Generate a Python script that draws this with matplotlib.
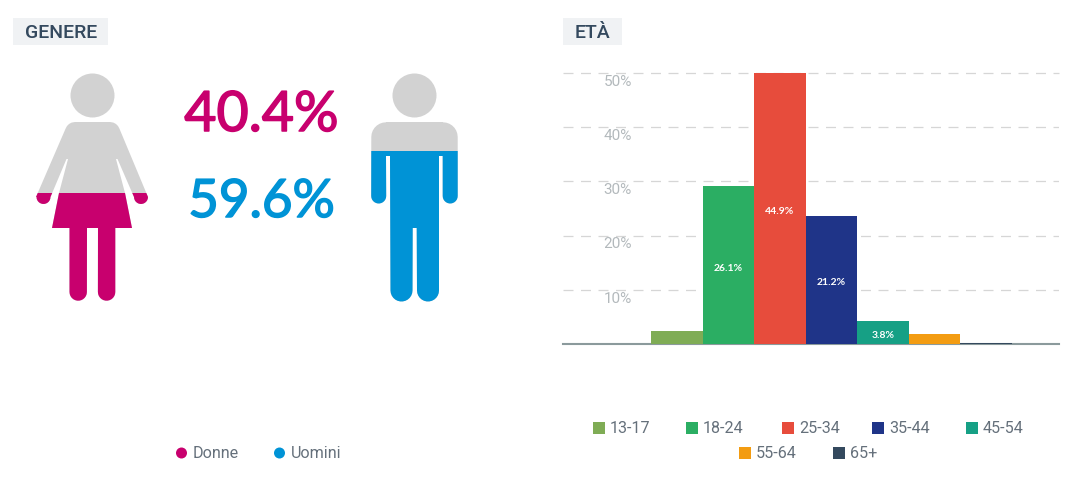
import numpy as np
import matplotlib
matplotlib.use('Agg')
import matplotlib.pyplot as plt
import matplotlib.patheffects as pe
from matplotlib.patches import Rectangle, Circle

plt.rcParams['font.family'] = ['Roboto', 'DejaVu Sans']

gender_labels = ['Donne', 'Uomini']
gender_shares = [40.4, 59.6]
gender_colors = ['#c8006e', '#0093d6']

age_labels = ['13-17', '18-24', '25-34', '35-44', '45-54', '55-64', '65+']
age_shares = [2.1, 26.1, 44.9, 21.2, 3.8, 1.7, 0.2]
age_colors = ['#7fac55', '#2bae63', '#e74c3c', '#1f3488', '#16a085', '#f39c12', '#34495e']
shown_labels = [None, '26.1%', '44.9%', '21.2%', '3.8%', None, None]
tick_labels = ['10%', '20%', '30%', '40%', '50%']

W, H = 1085, 494
fig = plt.figure(figsize=(W / 100, H / 100), dpi=100, facecolor='white')

# overlay in pixel coords for the icons, headers and legends
bg = fig.add_axes([0, 0, 1, 1])
bg.set_xlim(0, W)
bg.set_ylim(H, 0)
bg.axis('off')


def arc(cx, cy, r, a0, a1, n=14):
    t = np.radians(np.linspace(a0, a1, n))
    return list(zip(cx + r * np.cos(t), cy + r * np.sin(t)))


def woman_shape():
    body = [(75, 122), (110, 122)] + arc(110, 132, 10, 290, 340, 4)
    body += [(148, 197)] + arc(141, 197, 7.0, 0, 180)
    body += [(117.5, 159), (116, 159), (125, 193), (132, 228)]
    body += [(115.3, 228)] + arc(106.6, 292, 8.7, 0, 180) + [(98, 228), (87, 228)]
    body += arc(78.2, 292, 8.7, 0, 180) + [(69.5, 228), (52, 228), (59, 193), (68, 159), (66.5, 159)]
    body += arc(43.5, 197, 7.0, 0, 180) + [(36, 197)]
    body += arc(75, 132, 10, 200, 250, 4)
    return body


def man_shape():
    body = [(386, 122), (443, 122)] + arc(443, 137, 14.7, 270, 360, 8)
    body += arc(450.2, 196, 7.5, 0, 180) + [(442.7, 156), (439, 156)]
    body += arc(428, 290.5, 11, 0, 180) + [(416.7, 228), (412.7, 228)]
    body += arc(401.5, 290.5, 11, 0, 180) + [(390, 156), (386, 156)]
    body += arc(378.7, 196, 7.5, 0, 180) + arc(386, 137, 14.7, 180, 270, 8)
    return body


# fill level of the icon box follows the share
box_bottom, box_height = 281.4, 218.8
icons = [(woman_shape(), 92.5, 0), (man_shape(), 414.5, 1)]
for outline, head_x, i in icons:
    bg.add_patch(Circle((head_x, 95.5), 22, fc='#d2d2d2', ec='none'))
    xs, ys = zip(*outline)
    bg.fill(xs, ys, color='#d2d2d2', lw=0)
    level = box_bottom - box_height * gender_shares[i] / 100
    part = bg.fill(xs, ys, color=gender_colors[i], lw=0)[0]
    clip = Rectangle((0, level), W, H - level, transform=bg.transData)
    part.set_clip_path(clip)

# the reference type is heavier than Lato regular, thicken with a stroke
for share, col, size, base in zip(gender_shares, gender_colors, [40, 38], [131, 217]):
    t = bg.text(261.5, base, '%.1f%%' % share, color=col, fontsize=size,
                family='Lato', ha='center', va='baseline')
    t.set_path_effects([pe.withStroke(linewidth=1.1, foreground=col)])

# headers
bg.add_patch(Rectangle((13, 18), 95, 27, fc='#f0f2f4', ec='none'))
bg.text(61, 37.5, 'GENERE', color='#34495e', fontsize=14, fontweight='medium', ha='center', va='baseline')
bg.add_patch(Rectangle((563, 18), 59, 27, fc='#f0f2f4', ec='none'))
bg.text(592.5, 37.5, 'ETÀ', color='#34495e', fontsize=14, fontweight='medium', ha='center', va='baseline')

# legends
legend_col = '#65707b'
for name, col, x in zip(gender_labels, gender_colors, [181.5, 279.5]):
    bg.add_patch(Circle((x, 453), 5.5, fc=col, ec='none'))
    bg.text(x + 11.5, 453.5, name, color=legend_col, fontsize=11.6, ha='left', va='center')

legend_x = [593, 686, 782, 872, 966, 739, 833]
legend_y = [428, 428, 428, 428, 428, 453, 453]
for name, col, x, y in zip(age_labels, age_colors, legend_x, legend_y):
    bg.add_patch(Rectangle((x, y - 6), 12, 12, fc=col, ec='none'))
    bg.text(x + 17, y + 0.5, name, color=legend_col, fontsize=11.6, ha='left', va='center')

# bar chart, scale runs to the biggest share with 5 equal grid steps
x0, x1, y_top, y_base = 563, 1059, 73, 344
ax = fig.add_axes([x0 / W, 1 - y_base / H, (x1 - x0) / W, (y_base - y_top) / H])
ax.patch.set_alpha(0)
bar_px = 51.5
left = -0.5 - (651 - x0) / bar_px
ax.set_xlim(left, left + (x1 - x0) / bar_px)
ax.set_ylim(0, max(age_shares))
steps = np.linspace(0, max(age_shares), 6)[1:]
ax.set_yticks(steps)
ax.set_yticklabels([])
ax.set_xticks([])
ax.tick_params(length=0)
for s in ['top', 'left', 'right']:
    ax.spines[s].set_visible(False)
ax.spines['bottom'].set_color('#8b9a9c')
ax.spines['bottom'].set_linewidth(1.5)
ax.spines['bottom'].set_zorder(0.5)
ax.grid(axis='y', color='#d6d6d6', lw=0.9, linestyle=(0, (8, 6)))
ax.set_axisbelow(True)
ax.yaxis.get_gridlines()[-1].set_clip_on(False)

pos = np.arange(len(age_shares))
bars = ax.bar(pos, age_shares, width=1.0, color=age_colors, linewidth=0, clip_on=False, zorder=3)
for b, lab, v in zip(bars, shown_labels, age_shares):
    if lab:
        ax.annotate(lab, (b.get_x() + 0.5, v / 2), xytext=(0, -2), textcoords='offset points',
                    color='white', fontsize=7.5, fontweight='bold', family='Lato',
                    ha='center', va='center', zorder=4)

for v, lab in zip(steps, tick_labels):
    ax.annotate(lab, (632, v), xycoords=('figure pixels', 'data'),
                xytext=(0, -6.3), textcoords='offset points', color='#b3b9bc', fontsize=11,
                ha='right', va='center')

fig.savefig('out.png', dpi=100, facecolor='white')
